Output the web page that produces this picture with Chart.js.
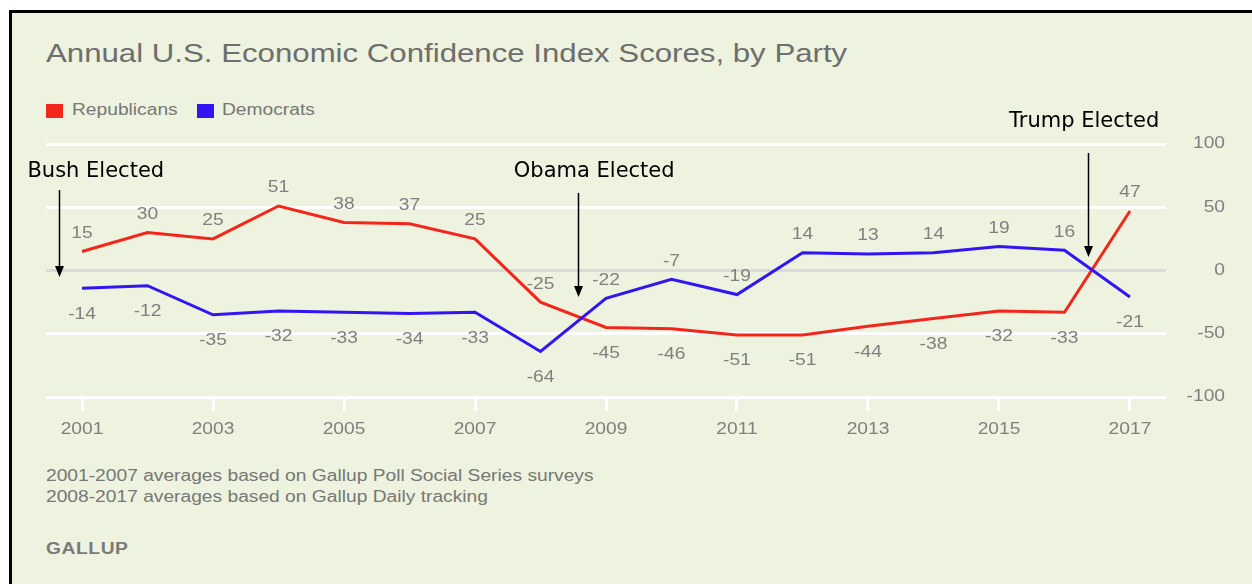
<!DOCTYPE html>
<html>
<head>
<meta charset="utf-8">
<script src="https://cdn.jsdelivr.net/npm/chart.js@4.4.1/dist/chart.umd.min.js"></script>
<style>
  html, body { margin: 0; padding: 0; background: #fff; width: 1252px; height: 584px; overflow: hidden; }
  .frame { position: absolute; left: 9px; top: 10px; width: 1250px; height: 600px; border: solid #000; border-width: 3px 0 0 3px; background: #edf3de; }
  .txt { position: absolute; white-space: nowrap; font-family: "Liberation Sans", Arial, sans-serif; transform-origin: 0 0; transform: scaleX(1.2); }
  #title { left: 46px; top: 40px; font-size: 26px; line-height: 26px; color: #6e6e6e; }
  .swatch { position: absolute; top: 104px; width: 17px; height: 14px; }
  .leg { top: 102px; font-size: 16px; line-height: 16px; color: #777; }
  .note { left: 46px; font-size: 16px; line-height: 16px; color: #777; }
  #gallup { left: 46px; top: 541px; font-size: 16px; line-height: 16px; font-weight: bold; color: #7a7a7a; letter-spacing: 0.5px; }
  canvas { position: absolute; left: 0; top: 0; }
</style>
</head>
<body>
<div class="frame"></div>
<div class="txt" id="title">Annual U.S. Economic Confidence Index Scores, by Party</div>
<div class="swatch" style="left:46px;background:#f4261b"></div>
<div class="txt leg" style="left:72px">Republicans</div>
<div class="swatch" style="left:197px;background:#3315f2"></div>
<div class="txt leg" style="left:222px">Democrats</div>
<div class="txt note" style="top:468px">2001-2007 averages based on Gallup Poll Social Series surveys</div>
<div class="txt note" style="top:489px">2008-2017 averages based on Gallup Daily tracking</div>
<div class="txt" id="gallup">GALLUP</div>
<canvas id="chart" width="1252" height="584"></canvas>
<script>
// ── Data ──────────────────────────────────────────────────────────────────────
const years       = [2001, 2002, 2003, 2004, 2005, 2006, 2007, 2008, 2009, 2010, 2011, 2012, 2013, 2014, 2015, 2016, 2017]
const republicans = [15, 30, 25, 51, 38, 37, 25, -25, -45, -46, -51, -51, -44, -38, -32, -33, 47]
const democrats   = [-14, -12, -35, -32, -33, -34, -33, -64, -22, -7, -19, 14, 13, 14, 19, 16, -21]
const xTickYears  = [2001, 2003, 2005, 2007, 2009, 2011, 2013, 2015, 2017]
const yTicks      = [-100, -50, 0, 50, 100]

// election markers: arrow x (year), arrow top / tip (index value), label centre
const elections = [
  { text: 'Bush Elected',  year: 2000.645, top: 63.6, tip: -5.1, textYear: 2001.21, textValue: 73.9 },
  { text: 'Obama Elected', year: 2008.576, top: 61.3, tip: -21,  textYear: 2008.82, textValue: 73.9 },
  { text: 'Trump Elected', year: 2016.366, top: 92.9, tip: 10.7, textYear: 2016.30, textValue: 113.4 }
]

const RED  = '#f4261b'
const BLUE = '#3315f2'
const GREY = '#808080'
const SANS = '"Liberation Sans", Arial, sans-serif'
const STRETCH = 1.2 // the Gallup lettering in the source is drawn wide

function wideText(ctx, text, x, y) {
  ctx.save()
  ctx.translate(x, y)
  ctx.scale(STRETCH, 1)
  ctx.fillText(text, 0, 0)
  ctx.restore()
}

// ── Tick labels, value labels, election arrows ───────────────────────────────
const overlay = {
  id: 'overlay',
  afterDraw(chart) {
    const { ctx, chartArea, scales: { x, y } } = chart
    ctx.save()
    ctx.font = '16px ' + SANS
    ctx.fillStyle = GREY
    ctx.textBaseline = 'middle'

    // axis labels, placed from the scales' own ticks
    ctx.textAlign = 'center'
    x.ticks.forEach(t => wideText(ctx, String(t.value), x.getPixelForValue(t.value), chartArea.bottom + 32.5))
    ctx.textAlign = 'right'
    y.ticks.forEach(t => wideText(ctx, String(t.value), chartArea.right + 59, y.getPixelForValue(t.value)))

    // point values: the higher series above its line, the lower one below
    ctx.textAlign = 'center'
    years.forEach((yr, i) => {
      const r = republicans[i], d = democrats[i]
      const px = x.getPixelForValue(yr)
      ;[[r, r >= d], [d, d > r]].forEach(([v, up]) => {
        wideText(ctx, String(v), px, y.getPixelForValue(v) + (up ? -18 : 26))
      })
    })

    ctx.fillStyle = '#000'
    ctx.strokeStyle = '#000'
    ctx.lineWidth = 1.5
    ctx.font = '21px "DejaVu Sans", Verdana, sans-serif'
    ctx.textBaseline = 'alphabetic'
    elections.forEach(e => {
      ctx.fillText(e.text, x.getPixelForValue(e.textYear), y.getPixelForValue(e.textValue))
      const ax = Math.round(x.getPixelForValue(e.year)) + 0.5
      const top = y.getPixelForValue(e.top)
      const tip = y.getPixelForValue(e.tip)
      ctx.beginPath()
      ctx.moveTo(ax, top)
      ctx.lineTo(ax, tip - 8)
      ctx.stroke()
      ctx.beginPath()
      ctx.moveTo(ax, tip)
      ctx.lineTo(ax - 4.5, tip - 11)
      ctx.lineTo(ax + 4.5, tip - 11)
      ctx.closePath()
      ctx.fill()
    })
    ctx.restore()
  }
}

const toPoints = vals => years.map((yr, i) => ({ x: yr, y: vals[i] }))

new Chart(document.getElementById('chart'), {
  type: 'line',
  data: {
    datasets: [
      { label: 'Democrats',   data: toPoints(democrats),   borderColor: BLUE, borderWidth: 3, pointRadius: 0, tension: 0, fill: false },
      { label: 'Republicans', data: toPoints(republicans), borderColor: RED,  borderWidth: 3, pointRadius: 0, tension: 0, fill: false }
    ]
  },
  options: {
    responsive: false,
    animation: false,
    events: [],
    layout: { padding: { left: 46, top: 144, right: 0, bottom: 0 } },
    plugins: { legend: { display: false }, tooltip: { enabled: false } },
    scales: {
      x: {
        type: 'linear',
        min: 2000.45,
        max: 2017.55,
        afterBuildTicks: s => { s.ticks = xTickYears.map(v => ({ value: v })) },
        afterFit: s => { s.height = 187 },
        border: { display: false },
        grid: { drawOnChartArea: false, drawTicks: true, tickLength: 14, color: '#ffffff', lineWidth: 3 },
        ticks: { color: 'rgba(0,0,0,0)', font: { family: SANS, size: 16 }, maxRotation: 0, autoSkip: false, callback: v => String(v) }
      },
      y: {
        position: 'right',
        min: -100,
        max: 100,
        afterBuildTicks: s => { s.ticks = yTicks.map(v => ({ value: v })) },
        afterFit: s => { s.width = 86 },
        border: { display: false },
        grid: { drawTicks: false, lineWidth: 3, color: c => c.tick && c.tick.value === 0 ? '#d9dadd' : '#ffffff' },
        ticks: { color: 'rgba(0,0,0,0)', font: { family: SANS, size: 16 }, callback: v => String(v) }
      }
    }
  },
  plugins: [overlay]
})
</script>
</body>
</html>
